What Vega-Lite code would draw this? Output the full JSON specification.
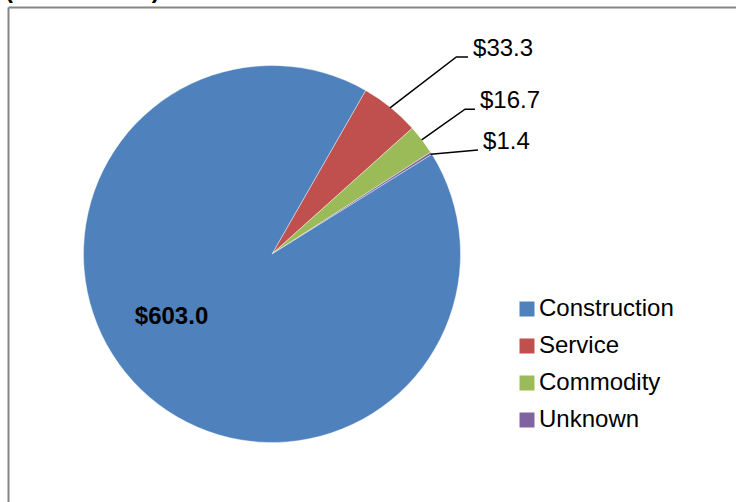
{
  "$schema": "https://vega.github.io/schema/vega-lite/v6.json",
  "width": 728,
  "height": 495,
  "padding": {"left": 8, "top": 7, "right": 0, "bottom": 0},
  "autosize": {"type": "none"},
  "background": "#ffffff",
  "config": {"view": {"stroke": null}, "font": "Liberation Sans"},
  "datasets": {
    "slices": [
      {"category": "Service", "amount": 33.3, "ord": 1},
      {"category": "Commodity", "amount": 16.7, "ord": 2},
      {"category": "Unknown", "amount": 1.4, "ord": 3},
      {"category": "Construction", "amount": 603.0, "ord": 4}
    ],
    "leaders": [
      {"g": "Service", "label": "$33.3", "px": 0.626, "py": 0.775, "o": 1},
      {"g": "Service", "label": "$33.3", "px": 0.978, "py": 1.045, "o": 2},
      {"g": "Service", "label": "$33.3", "px": 1.040, "py": 1.045, "o": 3},
      {"g": "Commodity", "label": "$16.7", "px": 0.794, "py": 0.605, "o": 1},
      {"g": "Commodity", "label": "$16.7", "px": 1.024, "py": 0.768, "o": 2},
      {"g": "Commodity", "label": "$16.7", "px": 1.077, "py": 0.768, "o": 3},
      {"g": "Unknown", "label": "$1.4", "px": 0.842, "py": 0.529, "o": 1},
      {"g": "Unknown", "label": "$1.4", "px": 1.093, "py": 0.552, "o": 3}
    ],
    "inside": [
      {"label": "$603.0", "px": -0.533, "py": -0.335}
    ],
    "heading": [
      {"label": "($ in millions)", "px": -1.416, "py": 1.358}
    ]
  },
  "layer": [
    {
      "data": {"name": "slices"},
      "mark": {"type": "arc", "outerRadius": 188.5, "stroke": "#ffffff", "strokeWidth": 0.4},
      "encoding": {
        "x": {"datum": 0, "type": "quantitative",
              "scale": {"domain": [-1.4005, 2.4615], "nice": false, "zero": false},
              "axis": {"orient": "top", "domain": true, "domainColor": "#868686", "domainWidth": 2, "ticks": false, "labels": false, "grid": false, "title": null}},
        "y": {"datum": 0, "type": "quantitative",
              "scale": {"domain": [-1.3156, 1.3103], "nice": false, "zero": false},
              "axis": {"orient": "left", "domain": true, "domainColor": "#868686", "domainWidth": 2, "ticks": false, "labels": false, "grid": false, "title": null}},
        "theta": {"field": "amount", "type": "quantitative", "stack": true, "scale": {"range": [0.520, 6.803]}},
        "order": {"field": "ord", "type": "quantitative"},
        "color": {
          "field": "category", "type": "nominal",
          "scale": {"domain": ["Construction", "Service", "Commodity", "Unknown"],
                    "range": ["#4F81BD", "#C0504D", "#9BBB59", "#8064A2"]},
          "legend": {"orient": "none", "legendX": 507, "legendY": 290, "title": null,
                     "symbolType": "square", "symbolSize": 225, "symbolStrokeWidth": 0, "symbolOpacity": 1,
                     "labelFontSize": 24, "labelFont": "Liberation Sans", "labelColor": "#000000",
                     "rowPadding": 13, "labelOffset": 0, "padding": 0, "symbolOffset": 0}
        }
      }
    },
    {
      "data": {"name": "leaders"},
      "mark": {"type": "line", "color": "#000000", "strokeWidth": 1.5},
      "encoding": {
        "x": {"field": "px", "type": "quantitative"},
        "y": {"field": "py", "type": "quantitative"},
        "detail": {"field": "g"},
        "order": {"field": "o", "type": "quantitative"}
      }
    },
    {
      "data": {"name": "leaders"},
      "transform": [{"filter": "datum.o == 3"}],
      "mark": {"type": "text", "align": "left", "baseline": "middle", "dx": 5, "dy": -8, "fontSize": 24, "color": "#000000", "font": "Liberation Sans"},
      "encoding": {
        "x": {"field": "px", "type": "quantitative"},
        "y": {"field": "py", "type": "quantitative"},
        "text": {"field": "label"}
      }
    },
    {
      "data": {"name": "inside"},
      "mark": {"type": "text", "align": "center", "baseline": "middle", "fontSize": 24, "fontWeight": "bold", "color": "#000000", "font": "Liberation Sans"},
      "encoding": {
        "x": {"field": "px", "type": "quantitative"},
        "y": {"field": "py", "type": "quantitative"},
        "text": {"field": "label"}
      }
    },
    {
      "data": {"name": "heading"},
      "mark": {"type": "text", "align": "left", "baseline": "alphabetic", "fontSize": 24, "fontWeight": "bold", "color": "#000000", "font": "Liberation Sans"},
      "encoding": {
        "x": {"field": "px", "type": "quantitative"},
        "y": {"field": "py", "type": "quantitative"},
        "text": {"field": "label"}
      }
    }
  ]
}
